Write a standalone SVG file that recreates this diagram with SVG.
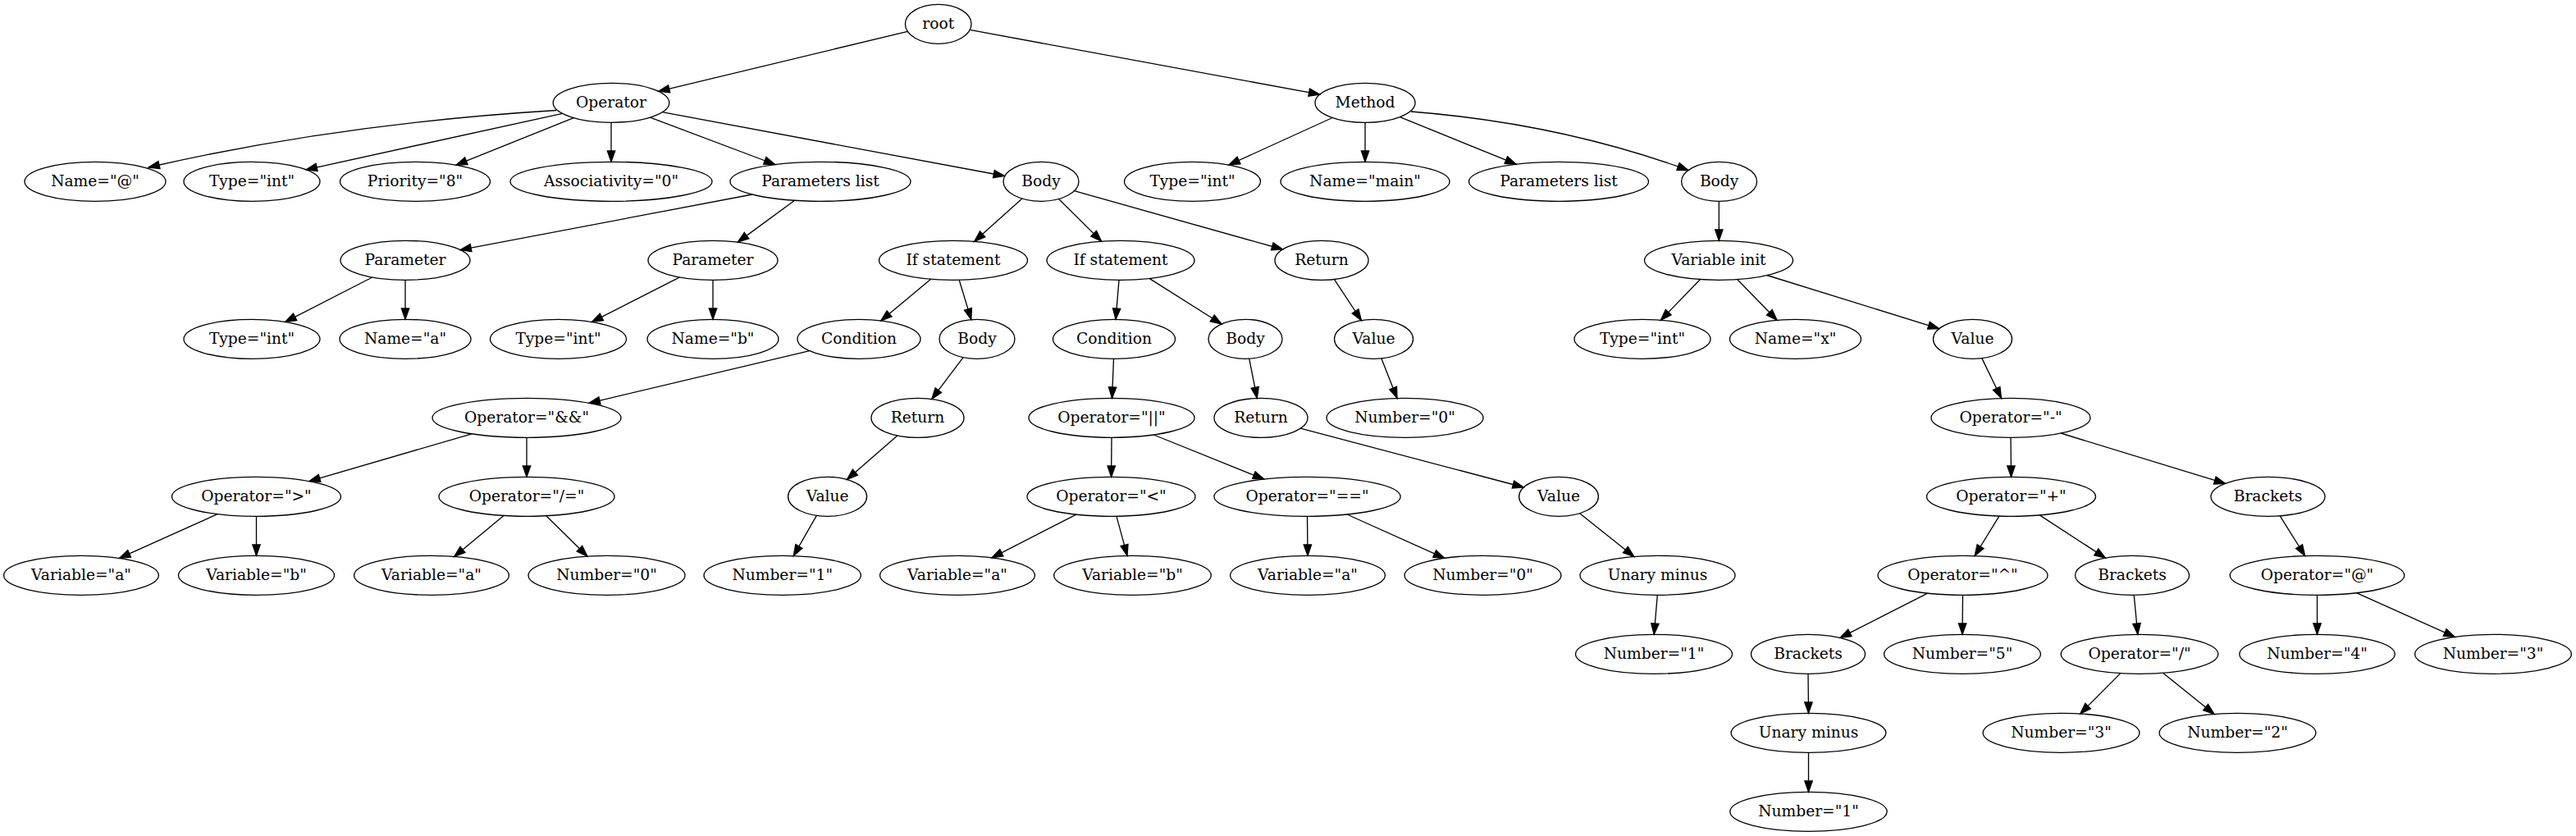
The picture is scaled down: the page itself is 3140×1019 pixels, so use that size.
<svg xmlns="http://www.w3.org/2000/svg" width="3140" height="1019" viewBox="0 0 3140 1019">
<defs>
<style>
.n ellipse{fill:none;stroke:#000;stroke-width:1.33}
.n text{font-family:"DejaVu Serif",serif;font-size:18.67px;text-anchor:middle;fill:#000}
.e path{fill:none;stroke:#000;stroke-width:1.33;marker-end:url(#arr)}
</style>
<marker id="arr" markerUnits="userSpaceOnUse" markerWidth="16" markerHeight="12" refX="13.33" refY="4.67" orient="auto" overflow="visible"><path d="M0,0 L13.33,4.67 L0,9.33 Z" fill="#000" stroke="#000" stroke-width="1.33"/></marker>
</defs>
<rect width="3140" height="1019" fill="#fff"/>
<g id="connectors" class="e">
<path d="M1106.3,38.3 L802.7,111.4"/>
<path d="M1182.2,36.4 L1608.8,115.1"/>
<path d="M678,134.5 Q412.5,150.75 181,204"/>
<path d="M685.5,138.3 L373.1,206.8"/>
<path d="M699.3,143.6 L556,201.2"/>
<path d="M745,149.3 L745,197.3"/>
<path d="M792.4,143.1 L944.8,200.5"/>
<path d="M807.3,136.7 L1224.5,214.5"/>
<path d="M1624.2,143.5 L1497.9,201"/>
<path d="M1664,149.3 L1664,197.3"/>
<path d="M1706.4,142.6 L1848.1,200.2"/>
<path d="M1720,136 Q1901,150.25 2058,207.5"/>
<path d="M917,237 L561,304.6"/>
<path d="M968.6,244.3 L899.3,295.1"/>
<path d="M1245.9,242 L1187.7,294.3"/>
<path d="M1290.5,242.5 L1342.6,294.1"/>
<path d="M1309.5,232.7 L1563.6,304"/>
<path d="M2095.3,245.3 L2095.3,293.3"/>
<path d="M453.8,338 L347.7,392.4"/>
<path d="M494,341.3 L494,389.3"/>
<path d="M828.5,337.9 L721.5,392.4"/>
<path d="M869,341.3 L869,389.3"/>
<path d="M1134.6,340.2 L1073.8,390.9"/>
<path d="M1169.2,341.2 L1183.8,389.6"/>
<path d="M1364,341.3 L1360,389.3"/>
<path d="M1401,339.4 L1489,395"/>
<path d="M1626.3,340.4 L1659.4,390.5"/>
<path d="M2072.5,340.5 L2024.4,390.2"/>
<path d="M2117.6,340.5 L2166.1,390.3"/>
<path d="M2153.8,335.5 L2363.7,400.6"/>
<path d="M986.7,427.6 L718,491.3"/>
<path d="M1174.1,435.6 L1135.8,486.4"/>
<path d="M1357.5,437.3 L1355.5,485.3"/>
<path d="M1522.7,437.2 L1532.3,485.4"/>
<path d="M1683.8,436.8 L1703,485.4"/>
<path d="M2415.8,436.6 L2439.5,485.5"/>
<path d="M575,528.8 L376.8,586.6"/>
<path d="M642,533.3 L642,581.3"/>
<path d="M1093.8,530.9 L1032.4,584.5"/>
<path d="M1355,533.3 L1354.6,581.3"/>
<path d="M1406.3,530 L1540.7,584.1"/>
<path d="M1585.3,522.1 L1857.3,594"/>
<path d="M2451,533.3 L2451.5,581.3"/>
<path d="M2512,528 L2712.5,589.4"/>
<path d="M265.1,626.6 L145.5,680.4"/>
<path d="M312.5,629.3 L312.5,677.3"/>
<path d="M614,628.5 L553.7,678.4"/>
<path d="M665.8,628.7 L715.9,678"/>
<path d="M995.4,628.4 L967.3,677.5"/>
<path d="M1311.9,627.1 L1209,679.8"/>
<path d="M1361,629.3 L1374,677.4"/>
<path d="M1593.5,629.3 L1594,677.3"/>
<path d="M1641.9,627 L1760.8,680.4"/>
<path d="M1925.6,625.7 L1991.8,678.4"/>
<path d="M2436.9,629.1 L2407.1,677.5"/>
<path d="M2486.2,627.9 L2566.4,680.1"/>
<path d="M2779.2,628.8 L2809.6,677.5"/>
<path d="M2020.3,725.3 L2016.2,773.3"/>
<path d="M2349.6,723.1 L2243,777.4"/>
<path d="M2392.5,725.3 L2392,773.3"/>
<path d="M2601.2,725.2 L2605.8,773.3"/>
<path d="M2824.5,725.3 L2824.5,773.3"/>
<path d="M2872.4,722.7 L2992.3,776.4"/>
<path d="M2204,821.3 L2204.5,869.3"/>
<path d="M2584.8,820.6 L2535.7,870"/>
<path d="M2636.5,820.2 L2699,870.4"/>
<path d="M2204.5,917.3 L2204.5,965.3"/>
</g>
<g id="root" class="n"><ellipse cx="1143.7" cy="29.3" rx="40.3" ry="24"/><text x="1143.7" y="34.9">root</text></g>
<g id="op" class="n"><ellipse cx="745" cy="125.3" rx="70.8" ry="24"/><text x="745" y="130.9">Operator</text></g>
<g id="method" class="n"><ellipse cx="1664" cy="125.3" rx="61" ry="24"/><text x="1664" y="130.9">Method</text></g>
<g id="op_name" class="n"><ellipse cx="116" cy="221.3" rx="86" ry="24"/><text x="116" y="226.9">Name="@"</text></g>
<g id="op_type" class="n"><ellipse cx="307" cy="221.3" rx="83" ry="24"/><text x="307" y="226.9">Type="int"</text></g>
<g id="op_prio" class="n"><ellipse cx="506" cy="221.3" rx="91.5" ry="24"/><text x="506" y="226.9">Priority="8"</text></g>
<g id="op_assoc" class="n"><ellipse cx="745" cy="221.3" rx="123" ry="24"/><text x="745" y="226.9">Associativity="0"</text></g>
<g id="op_params" class="n"><ellipse cx="1000" cy="221.3" rx="110" ry="24"/><text x="1000" y="226.9">Parameters list</text></g>
<g id="op_body" class="n"><ellipse cx="1269" cy="221.3" rx="46" ry="24"/><text x="1269" y="226.9">Body</text></g>
<g id="m_type" class="n"><ellipse cx="1453.5" cy="221.3" rx="83" ry="24"/><text x="1453.5" y="226.9">Type="int"</text></g>
<g id="m_name" class="n"><ellipse cx="1664" cy="221.3" rx="103" ry="24"/><text x="1664" y="226.9">Name="main"</text></g>
<g id="m_params" class="n"><ellipse cx="1900" cy="221.3" rx="109.5" ry="24"/><text x="1900" y="226.9">Parameters list</text></g>
<g id="m_body" class="n"><ellipse cx="2095.6" cy="221.3" rx="46" ry="24"/><text x="2095.6" y="226.9">Body</text></g>
<g id="param1" class="n"><ellipse cx="494" cy="317.3" rx="79" ry="24"/><text x="494" y="322.9">Parameter</text></g>
<g id="param2" class="n"><ellipse cx="869" cy="317.3" rx="79" ry="24"/><text x="869" y="322.9">Parameter</text></g>
<g id="if1" class="n"><ellipse cx="1162" cy="317.3" rx="90.5" ry="24"/><text x="1162" y="322.9">If statement</text></g>
<g id="if2" class="n"><ellipse cx="1366" cy="317.3" rx="90" ry="24"/><text x="1366" y="322.9">If statement</text></g>
<g id="ret1" class="n"><ellipse cx="1611" cy="317.3" rx="57" ry="24"/><text x="1611" y="322.9">Return</text></g>
<g id="varinit" class="n"><ellipse cx="2095" cy="317.3" rx="90.5" ry="24"/><text x="2095" y="322.9">Variable init</text></g>
<g id="p1_type" class="n"><ellipse cx="307" cy="413.3" rx="83" ry="24"/><text x="307" y="418.9">Type="int"</text></g>
<g id="p1_name" class="n"><ellipse cx="494" cy="413.3" rx="80" ry="24"/><text x="494" y="418.9">Name="a"</text></g>
<g id="p2_type" class="n"><ellipse cx="680.5" cy="413.3" rx="83" ry="24"/><text x="680.5" y="418.9">Type="int"</text></g>
<g id="p2_name" class="n"><ellipse cx="869" cy="413.3" rx="80" ry="24"/><text x="869" y="418.9">Name="b"</text></g>
<g id="cond1" class="n"><ellipse cx="1047" cy="413.3" rx="75" ry="24"/><text x="1047" y="418.9">Condition</text></g>
<g id="body1" class="n"><ellipse cx="1191" cy="413.3" rx="46" ry="24"/><text x="1191" y="418.9">Body</text></g>
<g id="cond2" class="n"><ellipse cx="1358" cy="413.3" rx="74.5" ry="24"/><text x="1358" y="418.9">Condition</text></g>
<g id="body2" class="n"><ellipse cx="1518" cy="413.3" rx="45" ry="24"/><text x="1518" y="418.9">Body</text></g>
<g id="val1" class="n"><ellipse cx="1674.5" cy="413.3" rx="48" ry="24"/><text x="1674.5" y="418.9">Value</text></g>
<g id="vi_type" class="n"><ellipse cx="2002" cy="413.3" rx="83" ry="24"/><text x="2002" y="418.9">Type="int"</text></g>
<g id="vi_name" class="n"><ellipse cx="2188.5" cy="413.3" rx="80" ry="24"/><text x="2188.5" y="418.9">Name="x"</text></g>
<g id="vi_val" class="n"><ellipse cx="2404.5" cy="413.3" rx="48" ry="24"/><text x="2404.5" y="418.9">Value</text></g>
<g id="and" class="n"><ellipse cx="642" cy="509.3" rx="115" ry="24"/><text x="642" y="514.9">Operator="&amp;&amp;"</text></g>
<g id="ret2" class="n"><ellipse cx="1118.5" cy="509.3" rx="56.5" ry="24"/><text x="1118.5" y="514.9">Return</text></g>
<g id="or" class="n"><ellipse cx="1355" cy="509.3" rx="101" ry="24"/><text x="1355" y="514.9">Operator="||"</text></g>
<g id="ret3" class="n"><ellipse cx="1537" cy="509.3" rx="57" ry="24"/><text x="1537" y="514.9">Return</text></g>
<g id="num0a" class="n"><ellipse cx="1712.5" cy="509.3" rx="95.5" ry="24"/><text x="1712.5" y="514.9">Number="0"</text></g>
<g id="minus" class="n"><ellipse cx="2451" cy="509.3" rx="97" ry="24"/><text x="2451" y="514.9">Operator="-"</text></g>
<g id="gt" class="n"><ellipse cx="312.5" cy="605.3" rx="103" ry="24"/><text x="312.5" y="610.9">Operator="&gt;"</text></g>
<g id="ne" class="n"><ellipse cx="642" cy="605.3" rx="107" ry="24"/><text x="642" y="610.9">Operator="/="</text></g>
<g id="val2" class="n"><ellipse cx="1008.6" cy="605.3" rx="48" ry="24"/><text x="1008.6" y="610.9">Value</text></g>
<g id="lt" class="n"><ellipse cx="1354.5" cy="605.3" rx="102.5" ry="24"/><text x="1354.5" y="610.9">Operator="&lt;"</text></g>
<g id="eq" class="n"><ellipse cx="1593.5" cy="605.3" rx="113.6" ry="24"/><text x="1593.5" y="610.9">Operator="=="</text></g>
<g id="val3" class="n"><ellipse cx="1900" cy="605.3" rx="48.4" ry="24"/><text x="1900" y="610.9">Value</text></g>
<g id="plus" class="n"><ellipse cx="2451.5" cy="605.3" rx="103" ry="24"/><text x="2451.5" y="610.9">Operator="+"</text></g>
<g id="br1" class="n"><ellipse cx="2764.5" cy="605.3" rx="69.5" ry="24"/><text x="2764.5" y="610.9">Brackets</text></g>
<g id="va1" class="n"><ellipse cx="99" cy="701.3" rx="94.4" ry="24"/><text x="99" y="706.9">Variable="a"</text></g>
<g id="vb1" class="n"><ellipse cx="312.5" cy="701.3" rx="95" ry="24"/><text x="312.5" y="706.9">Variable="b"</text></g>
<g id="va2" class="n"><ellipse cx="526" cy="701.3" rx="94.4" ry="24"/><text x="526" y="706.9">Variable="a"</text></g>
<g id="n0b" class="n"><ellipse cx="739.5" cy="701.3" rx="95.5" ry="24"/><text x="739.5" y="706.9">Number="0"</text></g>
<g id="n1a" class="n"><ellipse cx="953.7" cy="701.3" rx="95.7" ry="24"/><text x="953.7" y="706.9">Number="1"</text></g>
<g id="va3" class="n"><ellipse cx="1167" cy="701.3" rx="94.4" ry="24"/><text x="1167" y="706.9">Variable="a"</text></g>
<g id="vb2" class="n"><ellipse cx="1380.5" cy="701.3" rx="95.8" ry="24"/><text x="1380.5" y="706.9">Variable="b"</text></g>
<g id="va4" class="n"><ellipse cx="1594" cy="701.3" rx="94.4" ry="24"/><text x="1594" y="706.9">Variable="a"</text></g>
<g id="n0c" class="n"><ellipse cx="1807.5" cy="701.3" rx="95.4" ry="24"/><text x="1807.5" y="706.9">Number="0"</text></g>
<g id="um1" class="n"><ellipse cx="2020.5" cy="701.3" rx="94.5" ry="24"/><text x="2020.5" y="706.9">Unary minus</text></g>
<g id="pow" class="n"><ellipse cx="2392.5" cy="701.3" rx="103.5" ry="24"/><text x="2392.5" y="706.9">Operator="^"</text></g>
<g id="br2" class="n"><ellipse cx="2599" cy="701.3" rx="69.5" ry="24"/><text x="2599" y="706.9">Brackets</text></g>
<g id="at" class="n"><ellipse cx="2824.5" cy="701.3" rx="106.3" ry="24"/><text x="2824.5" y="706.9">Operator="@"</text></g>
<g id="n1b" class="n"><ellipse cx="2016" cy="797.3" rx="95.5" ry="24"/><text x="2016" y="802.9">Number="1"</text></g>
<g id="br3" class="n"><ellipse cx="2204" cy="797.3" rx="69.5" ry="24"/><text x="2204" y="802.9">Brackets</text></g>
<g id="n5" class="n"><ellipse cx="2392" cy="797.3" rx="95.4" ry="24"/><text x="2392" y="802.9">Number="5"</text></g>
<g id="div" class="n"><ellipse cx="2608" cy="797.3" rx="95.8" ry="24"/><text x="2608" y="802.9">Operator="/"</text></g>
<g id="n4" class="n"><ellipse cx="2824.5" cy="797.3" rx="94.7" ry="24"/><text x="2824.5" y="802.9">Number="4"</text></g>
<g id="n3a" class="n"><ellipse cx="3039" cy="797.3" rx="95.4" ry="24"/><text x="3039" y="802.9">Number="3"</text></g>
<g id="um2" class="n"><ellipse cx="2204.5" cy="893.3" rx="94.4" ry="24"/><text x="2204.5" y="898.9">Unary minus</text></g>
<g id="n3b" class="n"><ellipse cx="2512.5" cy="893.3" rx="95.4" ry="24"/><text x="2512.5" y="898.9">Number="3"</text></g>
<g id="n2" class="n"><ellipse cx="2727.5" cy="893.3" rx="95.4" ry="24"/><text x="2727.5" y="898.9">Number="2"</text></g>
<g id="n1c" class="n"><ellipse cx="2204.5" cy="989.3" rx="95.7" ry="24"/><text x="2204.5" y="994.9">Number="1"</text></g>
</svg>
